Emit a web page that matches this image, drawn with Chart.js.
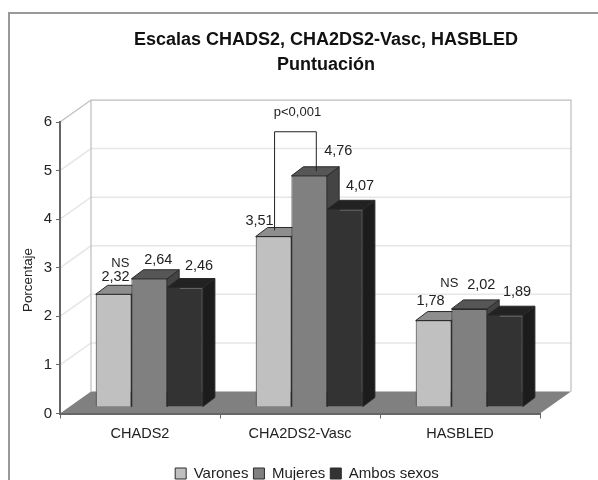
<!DOCTYPE html>
<html>
<head>
<meta charset="utf-8">
<title>Escalas CHADS2, CHA2DS2-Vasc, HASBLED</title>
<script src="https://cdn.jsdelivr.net/npm/chart.js@4"></script>
<style>
  html, body { margin: 0; padding: 0; background: #fff; }
  canvas { display: block; filter: blur(0.4px); }
</style>
</head>
<body>
<canvas id="chart" width="598" height="480"></canvas>
<script>
const categories = ['CHADS2', 'CHA2DS2-Vasc', 'HASBLED'];
const varones = [2.32, 3.51, 1.78];
const mujeres = [2.64, 4.76, 2.02];
const ambos = [2.46, 4.07, 1.89];

const seriesColors = ['#c0c0c0', '#808080', '#333333'];
const topColors = ['#8e8e8e', '#565656', '#222222'];
const sideColors = ['#666666', '#444444', '#1c1c1c'];

// fake 3D: how far the bars sit from the front of the floor, and how deep they are
const barShift = { x: 9.3, y: -6.5 };
const barDepth = { x: 12, y: -9 };
const wallDepth = { x: 31, y: -22 };

// hand placed labels, moved from the centre top of each bar as in the picture
const labelOffsets = [
  [[2, -17], [-14, -15], [-3, -20]],
  [[9, -19], [29, -25], [12, -24]],
  [[14, -22], [15, -23], [12, -23]]
];

function poly(ctx, points, fill, stroke) {
  ctx.beginPath();
  points.forEach((p, i) => i ? ctx.lineTo(p[0], p[1]) : ctx.moveTo(p[0], p[1]));
  ctx.closePath();
  ctx.fillStyle = fill;
  ctx.fill();
  if (stroke) {
    ctx.strokeStyle = stroke;
    ctx.lineWidth = 1;
    ctx.stroke();
  }
}

const scene3d = {
  id: 'scene3d',
  afterLayout(chart) {
    // title and legend are not centred on the canvas in the original
    chart.titleBlock.left = 54;
    chart.titleBlock.right = 598;
    chart.legend.left = 16;
    chart.legend.right = 598;
    chart.legend.top += 11;
    chart.legend.bottom += 11;
  },
  beforeDraw(chart) {
    const ctx = chart.ctx;
    const a = chart.chartArea;
    const y = chart.scales.y;
    const dx = wallDepth.x, dy = wallDepth.y;

    ctx.save();
    ctx.fillStyle = '#fff';
    ctx.fillRect(0, 0, chart.width, chart.height);

    // outer frame, runs off the right and bottom of the picture
    ctx.strokeStyle = '#999';
    ctx.lineWidth = 2;
    ctx.beginPath();
    ctx.moveTo(9, chart.height);
    ctx.lineTo(9, 13);
    ctx.lineTo(chart.width, 13);
    ctx.stroke();

    // gridlines on side wall and back wall
    ctx.strokeStyle = '#e6e6e6';
    ctx.lineWidth = 1.5;
    [1, 2, 3, 4, 5].forEach(v => {
      const py = y.getPixelForValue(v);
      ctx.beginPath();
      ctx.moveTo(a.left, py);
      ctx.lineTo(a.left + dx, py + dy);
      ctx.lineTo(a.right + dx, py + dy);
      ctx.stroke();
    });

    // wall outlines
    ctx.strokeStyle = '#bdbdbd';
    ctx.lineWidth = 1.2;
    ctx.beginPath();
    ctx.moveTo(a.left, a.top);
    ctx.lineTo(a.left + dx, a.top + dy);
    ctx.lineTo(a.right + dx, a.top + dy);
    ctx.lineTo(a.right + dx, a.bottom + dy);
    ctx.moveTo(a.left + dx, a.top + dy);
    ctx.lineTo(a.left + dx, a.bottom + dy);
    ctx.stroke();

    // floor
    poly(ctx, [
      [a.left, a.bottom],
      [a.right, a.bottom],
      [a.right + dx, a.bottom + dy],
      [a.left + dx, a.bottom + dy]
    ], '#808080');
    ctx.restore();
  },
  beforeDatasetsDraw(chart) {
    // paint left to right so each bar covers the side of the one before it
    const ctx = chart.ctx;
    ctx.save();
    ctx.translate(barShift.x, barShift.y);
    chart.data.datasets.forEach((ds, i) => {
      const meta = chart.getDatasetMeta(i);
      meta.data.forEach(bar => {
        const p = bar.getProps(['x', 'y', 'base', 'width'], true);
        const l = p.x - p.width / 2, r = p.x + p.width / 2;
        const dx = barDepth.x, dy = barDepth.y;
        poly(ctx, [[r, p.y], [r + dx, p.y + dy], [r + dx, p.base + dy], [r, p.base]], sideColors[i], '#2a2a2a');
        poly(ctx, [[l, p.y], [l + dx, p.y + dy], [r + dx, p.y + dy], [r, p.y]], topColors[i], '#2a2a2a');
      });
      meta.controller.draw();
    });
    ctx.restore();
  },
  beforeDatasetDraw() {
    return false;
  },
  afterDatasetsDraw(chart) {
    const ctx = chart.ctx;
    ctx.save();
    ctx.fillStyle = '#222';
    ctx.textAlign = 'center';
    ctx.textBaseline = 'middle';

    // value labels
    ctx.font = '14.5px "Liberation Sans"';
    chart.data.datasets.forEach((ds, i) => {
      chart.getDatasetMeta(i).data.forEach((bar, j) => {
        const off = labelOffsets[i][j];
        ctx.fillText(ds.data[j].toFixed(2).replace('.', ','),
          bar.x + barShift.x + off[0], bar.y + barShift.y + off[1]);
      });
    });

    // significance notes
    const v = chart.getDatasetMeta(0).data;
    const m = chart.getDatasetMeta(1).data;
    const y = chart.scales.y;
    ctx.font = '13px "Liberation Sans"';
    ctx.fillText('NS', v[0].x + 16, y.getPixelForValue(3.1) + 1);
    ctx.fillText('NS', v[2].x + 25, y.getPixelForValue(2.7) + 1);

    const bx1 = v[1].x + barShift.x + 1;
    const bx2 = m[1].x + barShift.x + 7;
    const bTop = y.getPixelForValue(5.8);
    ctx.fillText('p<0,001', (bx1 + bx2) / 2 + 2, y.getPixelForValue(6.2));
    ctx.strokeStyle = '#222';
    ctx.lineWidth = 1;
    ctx.beginPath();
    ctx.moveTo(bx1, y.getPixelForValue(3.77));
    ctx.lineTo(bx1, bTop);
    ctx.lineTo(bx2, bTop);
    ctx.lineTo(bx2, y.getPixelForValue(4.99));
    ctx.stroke();

    // axis title, sits lower than the middle of the axis
    ctx.translate(28, 280);
    ctx.rotate(-Math.PI / 2);
    ctx.font = '13.4px "Liberation Sans"';
    ctx.fillText('Porcentaje', 0, 0);
    ctx.restore();
  }
};

new Chart(document.getElementById('chart'), {
  type: 'bar',
  data: {
    labels: categories,
    datasets: [
      { label: 'Varones', data: varones },
      { label: 'Mujeres', data: mujeres },
      { label: 'Ambos sexos', data: ambos }
    ].map((ds, i) => Object.assign(ds, {
      backgroundColor: seriesColors[i],
      borderColor: '#2a2a2a',
      borderWidth: 1,
      categoryPercentage: 0.67,
      barPercentage: 1,
      clip: false
    }))
  },
  options: {
    responsive: false,
    animation: false,
    layout: { padding: { left: 0, right: 58, top: 0, bottom: 0 } },
    scales: {
      x: {
        afterFit(scale) { scale.height = 36.5; },
        border: { color: '#666', width: 2 },
        grid: { drawOnChartArea: false, color: '#666', tickLength: 5 },
        ticks: { color: '#222', padding: 7, font: { family: 'Liberation Sans', size: 14.5 } }
      },
      y: {
        min: 0,
        max: 6,
        afterFit(scale) { scale.width = 60; },
        border: { color: '#666', width: 2 },
        grid: { drawOnChartArea: false, color: '#666', tickLength: 4 },
        ticks: { stepSize: 1, color: '#222', padding: 4, font: { family: 'Liberation Sans', size: 15 } }
      }
    },
    plugins: {
      tooltip: { enabled: false },
      title: {
        display: true,
        text: ['Escalas CHADS2, CHA2DS2-Vasc, HASBLED', 'Puntuación'],
        color: '#111',
        font: { family: 'Liberation Sans', size: 18, weight: 'bold', lineHeight: 1.39 },
        padding: { top: 28, bottom: 44 }
      },
      legend: {
        position: 'bottom',
        labels: {
          color: '#222',
          boxWidth: 11,
          boxHeight: 11,
          padding: 5,
          font: { family: 'Liberation Sans', size: 15 }
        }
      }
    }
  },
  plugins: [scene3d]
});
</script>
</body>
</html>
